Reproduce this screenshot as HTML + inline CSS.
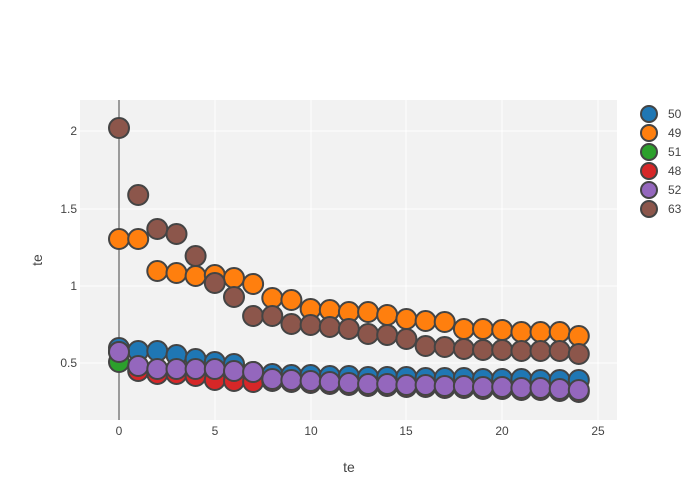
<!DOCTYPE html>
<html><head><meta charset="utf-8"><style>
body{margin:0;background:#fff}
svg{display:block;font-family:"Liberation Sans","DejaVu Sans",sans-serif}
</style></head><body>
<svg id="s" width="700" height="500" xmlns="http://www.w3.org/2000/svg">
<rect x="80" y="100" width="537" height="320" fill="#f2f2f2"/>
<g stroke="#fff" stroke-width="1">
<line x1="215" y1="100" x2="215" y2="420"/><line x1="311" y1="100" x2="311" y2="420"/>
<line x1="406" y1="100" x2="406" y2="420"/><line x1="502" y1="100" x2="502" y2="420"/>
<line x1="598" y1="100" x2="598" y2="420"/>
<line x1="80" y1="131" x2="617" y2="131"/><line x1="80" y1="209" x2="617" y2="209"/>
<line x1="80" y1="286" x2="617" y2="286"/><line x1="80" y1="363" x2="617" y2="363"/>
</g>
<line x1="119" y1="100" x2="119" y2="420" stroke="#444" stroke-width="1"/>
<g font-size="12" fill="#444" text-anchor="middle">
<text x="119" y="435">0</text><text x="215" y="435">5</text><text x="311" y="435">10</text>
<text x="406" y="435">15</text><text x="502" y="435">20</text><text x="598" y="435">25</text>
</g>
<g font-size="12" fill="#444" text-anchor="end">
<text x="77" y="135">2</text><text x="77" y="213">1.5</text><text x="77" y="290">1</text><text x="77" y="367">0.5</text>
</g>
<text x="349" y="472" font-size="14" fill="#444" text-anchor="middle">te</text>
<text x="42" y="260" font-size="14" fill="#444" text-anchor="middle" transform="rotate(-90 42 260)">te</text>
<g id="pts" stroke="#444" stroke-width="2"></g>
<g id="leg" stroke="#444" stroke-width="2"></g>
</svg>
<script>
var pur=[352,366,369,369,369,369,371,372,379,380,381,382,383,384,384,385,385,386,386,387,387,388,388,389,390];
var red=[352,371,374,374,376,380,381,382];for(var i=8;i<25;i++)red.push(pur[i]+2);
var S=[
["#1f77b4",[348,351,351,355,359,362,364,372,374,375,375,376,376,377,377,377,378,378,378,379,379,379,380,380,380]],
["#ff7f0e",[239,239,271,273,276,275,278,284,298,300,309,310,312,312,315,319,321,322,329,329,330,332,332,332,336]],
["#d62728",red],
["#2ca02c",[362]],
["#9467bd",pur],
["#8c564b",[128,195,229,234,256,283,297,316,316,324,325,327,329,334,335,339,346,347,349,350,350,351,351,351,354]]];
var leg=[["#1f77b4","50"],["#ff7f0e","49"],["#2ca02c","51"],["#d62728","48"],["#9467bd","52"],["#8c564b","63"]];
var g=document.getElementById("pts"),L=document.getElementById("leg"),h="",l="";
S.forEach(function(s){s[1].forEach(function(y,i){h+='<circle cx="'+(119+19.16*i).toFixed(1)+'" cy="'+y+'" r="10" fill="'+s[0]+'"/>';});});
leg.forEach(function(s,k){var yy=114+19*k;l+='<circle cx="649" cy="'+yy+'" r="8" fill="'+s[0]+'"/><text x="668" y="'+(yy+4)+'" font-size="12" fill="#444" stroke="none">'+s[1]+'</text>';});
g.innerHTML=h;L.innerHTML=l;
</script>
</body></html>
